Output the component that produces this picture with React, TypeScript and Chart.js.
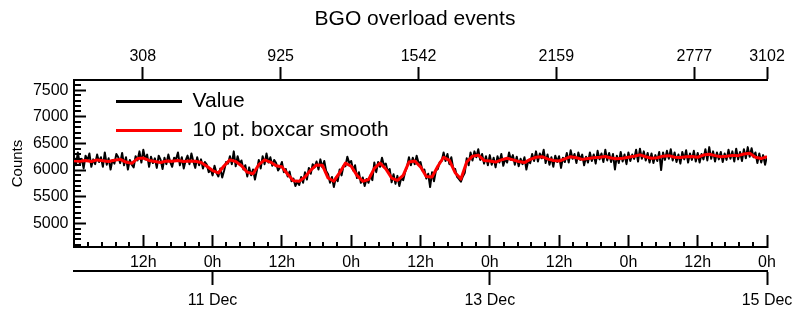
import React, { useEffect, useRef } from "react";
import { Chart, registerables } from "chart.js";

Chart.register(...registerables);

// Time axis in hours since 10 Dec 00:00
const timeStartHours = 0;
const timeEndHours = 120;
const valueStepHours = 1 / 3;
const smoothStepHours = 1;
const eventMax = 3102;
const countMin = 4555;
const countMax = 7690;

// Raw counts, one value every 20 minutes
const valueCounts: number[] = [
  6250, 6090, 6330, 6120, 6210, 6030, 6270, 6180, 6310, 6060, 6200, 6110,
  6290, 6150, 6240, 6060, 6330, 6100, 6220, 6010, 6190, 6120, 6300, 6240,
  6130, 6320, 6090, 6240, 6010, 6190, 6100, 6050, 6260, 6180, 6350, 6140,
  6380, 6200, 6290, 6060, 6250, 6130, 6220, 6040, 6270, 6190, 6020, 6230,
  6110, 6290, 6150, 6060, 6230, 6200, 6330, 6090, 6240, 6030, 6180, 6270,
  6110, 6310, 6160, 6040, 6240, 6090, 6200, 6030, 6150, 6100, 5960, 6020,
  5900, 6080, 5950, 5880, 6030, 5860, 5990, 6150, 6120, 6260, 6110, 6350,
  6070, 6260, 6120, 6180, 6010, 6090, 5880, 6050, 5900, 6010, 5820, 5990,
  6190, 6030, 6260, 6110, 6310, 6140, 6240, 6080, 6190, 6130, 5990, 6050,
  6150, 5960, 6020, 5880, 5970, 5790, 5840, 5700, 5780, 5720, 5870, 5760,
  5960, 5820, 6040, 5930, 6110, 6050, 6160, 6010, 6200, 6050, 6170, 5980,
  5920, 5760, 5870, 5680, 5860, 5790, 6010, 5900, 6080, 6070, 6250, 6130,
  6170, 5990, 6090, 5850, 5960, 5760, 5860, 5700, 5830, 5760, 5900, 5810,
  6140, 5960, 6150, 6060, 6230, 6090, 6120, 5970, 6020, 5770, 5920, 5740,
  5890, 5700, 5850, 5810, 5960, 6060, 6240, 6090, 6230, 6110, 6270, 6130,
  6150, 5990, 6010, 5840, 5930, 5680, 5960, 5790, 5990, 6020, 6150, 6170,
  6330, 6170, 6300, 6110, 6240, 6030, 6020, 5870, 5830, 5780, 5880, 5950,
  6220, 6090, 6330, 6180, 6350, 6240, 6390, 6190, 6300, 6120, 6260, 6090,
  6280, 6100, 6230, 6050, 6260, 6140, 6300, 6080, 6210, 6140, 6330, 6190,
  6280, 6100, 6250, 6070, 6210, 6110, 6240, 6010, 6180, 6130, 6300, 6170,
  6350, 6160, 6310, 6220, 6380, 6130, 6290, 6100, 6240, 6060, 6270, 6150,
  6260, 6040, 6230, 6150, 6320, 6140, 6370, 6210, 6300, 6130, 6330, 6190,
  6290, 6090, 6250, 6140, 6330, 6170, 6290, 6120, 6360, 6200, 6310, 6150,
  6380, 6180, 6320, 6150, 6300, 6010, 6270, 6130, 6340, 6160, 6290, 6110,
  6330, 6170, 6290, 6210, 6380, 6160, 6400, 6210, 6350, 6180, 6320, 6140,
  6310, 6130, 6280, 6170, 6340, 6000, 6330, 6190, 6360, 6210, 6390, 6180,
  6330, 6150, 6290, 6120, 6340, 6200, 6370, 6140, 6310, 6190, 6360, 6160,
  6320, 6140, 6300, 6200, 6390, 6180, 6430, 6210, 6350, 6160, 6330, 6200,
  6340, 6150, 6310, 6190, 6380, 6210, 6350, 6160, 6400, 6200, 6340, 6170,
  6390, 6220, 6430, 6250, 6410, 6240, 6330, 6130, 6310, 6140, 6280, 6100,
  6260
];

// 10 pt. boxcar smooth, one value per hour
const smoothCounts: number[] = [
  6175, 6165, 6180, 6160, 6190, 6175, 6160, 6185, 6200, 6150, 6125, 6215,
  6225, 6180, 6160, 6140, 6170, 6165, 6180, 6160, 6170, 6165, 6140, 6070,
  5990, 5945, 6080, 6190, 6160, 6080, 5960, 5930, 6100, 6190, 6150, 6080,
  6060, 5920, 5800, 5790, 5870, 6000, 6095, 6090, 5850, 5790, 5950, 6130,
  6070, 5900, 5790, 5820, 6030, 6130, 6020, 5850, 5805, 5900, 6150, 6170,
  6060, 5880, 5870, 6070, 6240, 6180, 5950, 5830, 6150, 6260, 6280, 6180,
  6170, 6150, 6190, 6220, 6190, 6160, 6140, 6200, 6240, 6250, 6210, 6180,
  6170, 6210, 6250, 6230, 6200, 6215, 6230, 6240, 6255, 6225, 6210, 6220,
  6240, 6260, 6285, 6250, 6220, 6230, 6260, 6270, 6240, 6235, 6250, 6255,
  6240, 6280, 6295, 6270, 6250, 6260, 6275, 6270, 6300, 6315, 6240, 6215,
  6250
];

const hourTicks = [12, 24, 36, 48, 60, 72, 84, 96, 108, 120];
const hourTickLabels = ["12h", "0h", "12h", "0h", "12h", "0h", "12h", "0h", "12h", "0h"];
const dateTicks = [24, 72, 120];
const dateTickLabels = ["11 Dec", "13 Dec", "15 Dec"];
const eventTicks = [308, 925, 1542, 2159, 2777, 3102];
const countTicks = [5000, 5500, 6000, 6500, 7000, 7500];

const hourMinorTicks: number[] = [];
for (let k = 1; k < 50; k++) if (k % 5 !== 0) hourMinorTicks.push(k * 2.4);
const countMinorTicks: number[] = [];
for (let v = 4600; v <= 7600; v += 100) if (v % 500 !== 0) countMinorTicks.push(v);

Chart.defaults.font.family = "'Liberation Sans', Arial, Helvetica, sans-serif";
Chart.defaults.font.size = 16;
Chart.defaults.color = "#000";

const minorTicksPlugin = {
  id: "minorTicks",
  afterDraw(chart: any) {
    const ctx = chart.ctx as CanvasRenderingContext2D;
    const xs = chart.scales.x;
    const ys = chart.scales.y;
    const area = chart.chartArea;
    ctx.save();
    ctx.strokeStyle = "#000";
    ctx.lineWidth = 2;
    ctx.beginPath();
    for (const v of countMinorTicks) {
      const py = Math.round(ys.getPixelForValue(v));
      ctx.moveTo(area.left, py);
      ctx.lineTo(area.left + 7, py);
    }
    for (const h of hourMinorTicks) {
      const px = Math.round(xs.getPixelForValue(h));
      ctx.moveTo(px, area.bottom);
      ctx.lineTo(px, area.bottom - 5);
    }
    ctx.stroke();
    ctx.restore();
  },
};

const placementPlugin = {
  id: "placement",
  afterLayout(chart: any) {
    const lg = chart.legend;
    if (lg) {
      lg.left = chart.chartArea.left + 34;
      lg.top = chart.chartArea.top + 3;
      lg.bottom = chart.chartArea.bottom;
    }
    const tb = chart.titleBlock;
    if (tb) {
      tb.left = 37;
      tb.right = 793;
    }
  },
};

const fixedSize = (h?: number, w?: number) => (s: any) => {
  if (h !== undefined) s.height = h;
  if (w !== undefined) s.width = w;
  s.paddingLeft = 0;
  s.paddingRight = 0;
  s.paddingTop = 0;
  s.paddingBottom = 0;
};

export default function App() {
  const ref = useRef<HTMLCanvasElement>(null);
  useEffect(() => {
    const canvas = ref.current;
    if (!canvas) return;
    const chart = new Chart(canvas, {
      type: "line",
      data: {
        datasets: [
          {
            label: "Value",
            data: valueCounts.map((v, i) => ({ x: timeStartHours + i * valueStepHours, y: v })),
            borderColor: "#000000",
            borderWidth: 2,
            borderJoinStyle: "round",
            pointRadius: 0,
            order: 2,
          },
          {
            label: "10 pt. boxcar smooth",
            data: smoothCounts.map((v, i) => ({ x: timeStartHours + i * smoothStepHours, y: v })),
            borderColor: "#ff0000",
            borderWidth: 3,
            borderJoinStyle: "round",
            pointRadius: 0,
            order: 1,
          },
        ],
      },
      options: {
        animation: false,
        responsive: false,
        devicePixelRatio: 1,
        layout: { padding: { left: 0, right: 26, top: 0, bottom: 0 } },
        elements: { line: { tension: 0 }, point: { radius: 0 } },
        plugins: {
          title: {
            display: true,
            text: "BGO overload events",
            color: "#000",
            font: { size: 21, weight: "normal" },
            padding: { top: 7, bottom: 5.8 },
          },
          legend: {
            display: true,
            position: "chartArea",
            align: "start",
            labels: {
              color: "#000",
              font: { size: 21 },
              usePointStyle: true,
              pointStyle: "line",
              pointStyleWidth: 66,
              padding: 8,
              sort: (a: any, b: any) => a.datasetIndex - b.datasetIndex,
              generateLabels: (c: any) =>
                (Chart.defaults.plugins.legend.labels.generateLabels as any)(c).map((l: any) => ({
                  ...l,
                  lineWidth: 3,
                })),
            },
          },
          tooltip: { enabled: false },
        },
        scales: {
          x: {
            type: "linear",
            position: "bottom",
            weight: 0,
            min: timeStartHours,
            max: timeEndHours,
            afterBuildTicks: (s: any) => {
              s.ticks = hourTicks.map((v) => ({ value: v }));
            },
            afterFit: fixedSize(24),
            ticks: {
              autoSkip: false,
              maxRotation: 0,
              minRotation: 0,
              padding: 17.5,
              color: "#000",
              font: { size: 16 },
              callback: (v: any) => hourTickLabels[hourTicks.indexOf(Number(v))] ?? "",
            },
            grid: { drawOnChartArea: false, drawTicks: true, tickLength: -12, tickWidth: 2, tickColor: "#000" },
            border: { display: true, color: "#000", width: 2 },
          },
          x3: {
            type: "linear",
            position: "bottom",
            weight: 1,
            min: timeStartHours,
            max: timeEndHours,
            afterBuildTicks: (s: any) => {
              s.ticks = dateTicks.map((v) => ({ value: v }));
            },
            afterFit: fixedSize(42),
            ticks: {
              autoSkip: false,
              maxRotation: 0,
              minRotation: 0,
              padding: 5.5,
              color: "#000",
              font: { size: 16 },
              callback: (v: any) => dateTickLabels[dateTicks.indexOf(Number(v))] ?? "",
            },
            grid: { drawOnChartArea: false, drawTicks: true, tickLength: 14, tickWidth: 2, tickColor: "#000" },
            border: { display: true, color: "#000", width: 2 },
          },
          x2: {
            type: "linear",
            position: "top",
            min: 0,
            max: eventMax,
            afterBuildTicks: (s: any) => {
              s.ticks = eventTicks.map((v) => ({ value: v }));
            },
            afterFit: fixedSize(42),
            ticks: {
              autoSkip: false,
              maxRotation: 0,
              minRotation: 0,
              padding: 0.5,
              color: "#000",
              font: { size: 16 },
              callback: (v: any) => String(v),
            },
            grid: { drawOnChartArea: false, drawTicks: true, tickLength: 13, tickWidth: 2, tickColor: "#000" },
            border: { display: true, color: "#000", width: 2 },
          },
          y: {
            type: "linear",
            position: "left",
            min: countMin,
            max: countMax,
            afterBuildTicks: (s: any) => {
              s.ticks = countTicks.map((v) => ({ value: v }));
            },
            afterFit: fixedSize(undefined, 74),
            ticks: {
              autoSkip: false,
              padding: 17.5,
              color: "#000",
              font: { size: 16 },
              callback: (v: any) => String(v),
            },
            grid: { drawOnChartArea: false, drawTicks: true, tickLength: -12, tickWidth: 2, tickColor: "#000" },
            border: { display: true, color: "#000", width: 2 },
            title: {
              display: true,
              text: "Counts",
              color: "#000",
              font: { size: 15 },
              padding: { top: 8.5, bottom: 0 },
            },
          },
        },
      } as any,
      plugins: [minorTicksPlugin, placementPlugin],
    });
    return () => chart.destroy();
  }, []);
  return (
    <div style={{ position: "fixed", left: 0, top: 0, width: 793, height: 313, background: "#fff" }}>
      <canvas ref={ref} width={793} height={313} style={{ display: "block", width: 793, height: 313 }} />
    </div>
  );
}
